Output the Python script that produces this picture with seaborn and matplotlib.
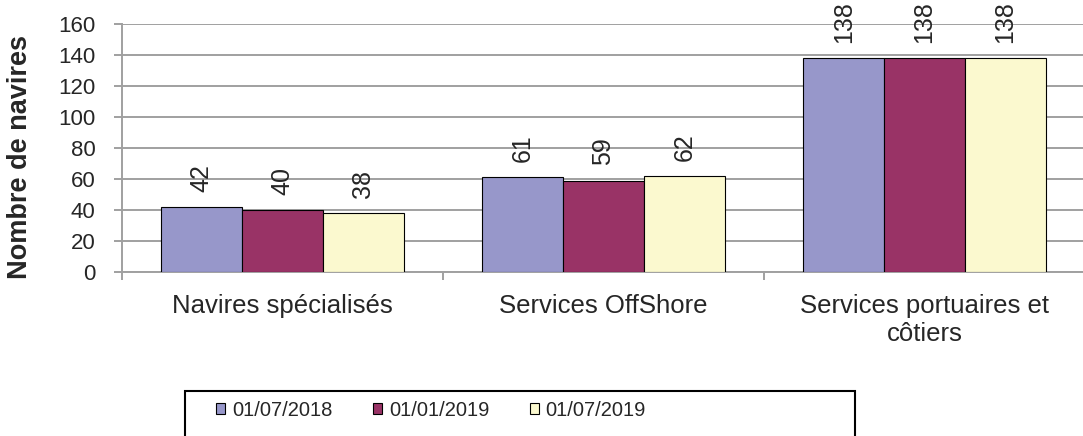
import matplotlib
matplotlib.use("Agg")
import matplotlib.pyplot as plt
from matplotlib.patches import Rectangle
import seaborn as sns
import pandas as pd

# ---- data ----
categories = ["Navires spécialisés", "Services OffShore", "Services portuaires et\ncôtiers"]
dates = ["01/07/2018", "01/01/2019", "01/07/2019"]
values_2018_07 = [42, 61, 138]
values_2019_01 = [40, 59, 138]
values_2019_07 = [38, 62, 138]
y_ticks = [0, 20, 40, 60, 80, 100, 120, 140, 160]
y_label = "Nombre de navires"
colors = ["#9797CA", "#993366", "#FBF9CF"]

series = [values_2018_07, values_2019_01, values_2019_07]
rows = []
for d, vals in zip(dates, series):
    for c, v in zip(categories, vals):
        rows.append({"cat": c, "date": d, "val": v})
df = pd.DataFrame(rows)

sns.set_style("white")
plt.rcParams["font.family"] = ["Liberation Sans", "DejaVu Sans"]

W, H = 1083, 436
fig = plt.figure(figsize=(W / 100, H / 100), dpi=100)
ax = fig.add_axes([122 / W, 1 - 272 / H, 963 / W, 248 / H])

grid_c = "#A0A0A0"
sns.barplot(data=df, x="cat", y="val", hue="date", order=categories, hue_order=dates,
            palette=colors, saturation=1, width=0.755, edgecolor="black", linewidth=0.8,
            ax=ax, zorder=3)

ax.set_xlim(-0.5, 2.5)
ax.set_ylim(0, 160)
ax.set_yticks(y_ticks)
ax.yaxis.grid(True, color=grid_c, lw=1.4)
ax.xaxis.grid(False)
ax.set_axisbelow(True)

for s in ["top", "right"]:
    ax.spines[s].set_visible(False)
for s in ["left", "bottom"]:
    ax.spines[s].set_color(grid_c)
    ax.spines[s].set_linewidth(1.4)

ax.tick_params(axis="y", direction="out", length=6, width=1.4, color=grid_c,
               pad=13, labelsize=16, left=True)
ax.tick_params(axis="x", which="major", length=0, pad=16, labelsize=18.5)
ax.set_xticks([-0.5, 0.5, 1.5, 2.5], minor=True)
ax.tick_params(axis="x", which="minor", direction="out", length=6, width=1.4,
               color=grid_c, bottom=True)
for lbl in ax.get_xticklabels():
    lbl.set_multialignment("center")
    lbl.set_linespacing(1.2)

ax.set_xlabel("")
ax.set_ylabel(y_label, fontsize=19.5, fontweight="bold")
ax.yaxis.set_label_coords(-(122 - 33) / 963, 0.462)

for cont in ax.containers:
    ax.bar_label(cont, rotation=90, padding=11, fontsize=18)

handles, labels = ax.get_legend_handles_labels()
if ax.get_legend() is not None:
    ax.get_legend().remove()
fig.legend(handles, labels, loc="center left", bbox_to_anchor=(206 / W, 1 - 410 / H),
           ncol=3, frameon=False, borderpad=0, handlelength=0.45, handleheight=0.5,
           handletextpad=0.35, columnspacing=2.0, fontsize=14.5)

fig.add_artist(Rectangle((185 / W, -0.05), (855 - 185) / W, (436 - 391) / H + 0.05,
                         transform=fig.transFigure, fill=False, edgecolor="black", lw=1.5))

fig.savefig("out.png", dpi=100)
